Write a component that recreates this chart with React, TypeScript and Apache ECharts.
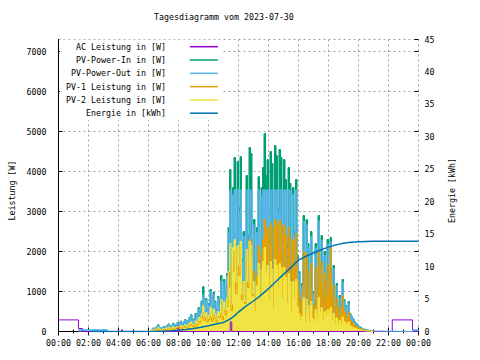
import React, { useEffect, useRef } from "react";
import * as echarts from "echarts";

const chartTitle = "Tagesdiagramm vom 2023-07-30";
const seriesNames = [
  "AC Leistung in [W]",
  "PV-Power-In in [W]",
  "PV-Power-Out in [W]",
  "PV-1 Leistung in [W]",
  "PV-2 Leistung in [W]",
  "Energie in [kWh]",
];
const seriesColors = ["#9400d3", "#009e73", "#56b4e9", "#e69f00", "#f0e442", "#0072b2"];
const xTickLabels = ["00:00", "02:00", "04:00", "06:00", "08:00", "10:00", "12:00", "14:00", "16:00", "18:00", "20:00", "22:00", "00:00"];
const leftAxisName = "Leistung [W]";
const rightAxisName = "Energie [kWh]";

// daytime samples: every 6 minutes from 06:00 to 21:00
const DAY_START_H = 6;
const DAY_STEP_H = 0.1;

const pvInDay = [
  0, 10, 40, 90, 60, 120, 170, 100, 70, 110,
  130, 100, 150, 190, 120, 160, 210, 140, 180, 230,
  200, 260, 180, 240, 300, 220, 280, 360, 420, 300,
  320, 450, 380, 600, 520, 760, 1120, 640, 820, 560,
  700, 1050, 620, 980, 760, 540, 880, 790, 1400, 680,
  1300, 950, 1450, 2600, 4050, 1200, 3600, 4350, 2200, 4250,
  3100, 4370, 1800, 2500, 1500, 3900, 2400, 4600, 4450, 1900,
  2800, 1200, 2600, 3870, 1800, 3600, 4100, 4950, 3900, 4300,
  2300, 4500, 4200, 1700, 4650, 4400, 3100, 4550, 4350, 2600,
  4300, 3800, 2200, 4100, 3700, 1600, 3600, 2500, 3800, 1900,
  1500, 800, 1200, 2900, 600, 2800, 2200, 700, 2500, 1000,
  700, 2200, 1100, 2900, 1700, 2400, 800, 2000, 1300, 2300,
  1500, 2350, 900, 1650, 600, 1200, 500, 900, 650, 1300,
  800, 650, 500, 750, 450, 380, 320, 250, 210, 160,
  130, 110, 80, 60, 45, 35, 30, 25, 20, 15,
  0,
];

const pvOutDay = [
  0, 8, 35, 85, 55, 110, 160, 95, 65, 100,
  120, 95, 140, 180, 115, 150, 200, 130, 170, 215,
  190, 245, 170, 225, 285, 210, 265, 340, 400, 285,
  305, 430, 360, 570, 495, 720, 910, 610, 780, 530,
  665, 1000, 590, 930, 720, 515, 835, 640, 1250, 645,
  1240, 900, 1380, 2470, 3540, 1140, 3420, 3540, 2090, 3540,
  2950, 3540, 1710, 2380, 1430, 3540, 2280, 3540, 3540, 1800,
  2660, 1140, 2470, 3540, 1710, 3420, 3540, 3540, 3540, 3540,
  2190, 3540, 3540, 1620, 3540, 3540, 2950, 3540, 3540, 2470,
  3540, 3540, 2090, 3540, 3520, 1520, 3420, 2380, 3540, 1800,
  1430, 760, 1140, 2760, 570, 2660, 2090, 665, 2380, 950,
  665, 2090, 1045, 2760, 1615, 2280, 760, 1900, 1235, 2185,
  1430, 2230, 855, 1570, 570, 1140, 475, 855, 620, 1235,
  760, 620, 475, 710, 430, 360, 305, 240, 200, 150,
  125, 105, 75, 57, 43, 33, 28, 24, 19, 14,
  0,
];

const pv1Day = [
  0, 4, 15, 40, 25, 50, 70, 40, 30, 45,
  55, 40, 60, 80, 50, 65, 90, 55, 75, 100,
  85, 110, 75, 100, 130, 90, 120, 150, 180, 125,
  130, 190, 160, 250, 220, 330, 480, 270, 350, 240,
  300, 450, 260, 420, 320, 230, 380, 340, 600, 290,
  560, 410, 620, 1100, 1650, 520, 1500, 2000, 950, 2050,
  1400, 2100, 800, 1200, 700, 1800, 1100, 2300, 2250, 900,
  1500, 650, 1400, 2150, 1000, 2000, 2300, 2800, 2400, 2600,
  1450, 2700, 2600, 1100, 2800, 2700, 1950, 2780, 2700, 1650,
  2650, 2400, 1450, 2600, 2350, 1050, 2300, 1600, 2450, 1250,
  1000, 500, 800, 2000, 380, 1950, 1500, 450, 1700, 650,
  460, 1600, 750, 2000, 1200, 1750, 520, 1450, 900, 1650,
  1050, 2100, 620, 1150, 400, 820, 330, 600, 430, 900,
  520, 420, 320, 480, 290, 240, 200, 160, 130, 100,
  80, 70, 50, 35, 25, 20, 15, 12, 10, 8,
  0,
];

const pv2Day = [
  0, 5, 25, 50, 35, 70, 100, 60, 40, 65,
  75, 60, 90, 110, 70, 95, 120, 85, 105, 130,
  115, 150, 105, 140, 170, 130, 160, 210, 240, 175,
  190, 260, 220, 350, 300, 430, 640, 370, 470, 320,
  400, 600, 360, 560, 440, 310, 500, 450, 800, 390,
  740, 540, 830, 1500, 2200, 680, 2100, 2300, 1250, 2150,
  1650, 2250, 950, 1250, 750, 2050, 1250, 2250, 2150, 950,
  1250, 500, 1150, 1700, 750, 1550, 1750, 2100, 1450, 1650,
  800, 1750, 1550, 550, 1800, 1650, 1050, 1700, 1600, 850,
  1600, 1350, 700, 1450, 1250, 500, 1250, 800, 1300, 600,
  450, 270, 370, 850, 200, 800, 650, 230, 750, 320,
  230, 550, 330, 850, 460, 600, 260, 500, 380, 550,
  420, 600, 260, 450, 180, 340, 160, 280, 200, 360,
  250, 210, 160, 240, 140, 120, 100, 80, 70, 50,
  40, 35, 25, 20, 15, 12, 10, 8, 6, 5,
  0,
];

// irregular readings (hour of day, value)
const acTimes = [0, 1.33, 1.6, 4.2, 4.27, 7.95, 8.03, 11.45, 11.55, 20.6, 20.67, 22.25, 23.6, 24];
const acValues = [290, 75, 0, 40, 0, 150, 0, 240, 0, 30, 0, 290, 0, 0];

const outNightTimes = [1.33, 3.25];
const outNightValues = [45, 0];
const outLateTimes = [23.6, 24];
const outLateValues = [45, 45];

const energyTimes = [2.13, 6, 6.5, 7, 7.5, 8, 8.5, 9, 9.5, 10, 10.5, 11, 11.33, 11.67, 12, 12.5, 13, 13.5, 14, 14.5, 15, 15.5, 16, 16.5, 17, 17.5, 18, 18.5, 19, 19.5, 20, 20.5, 21, 21.5, 24];
const energyValues = [0, 0, 0.02, 0.06, 0.12, 0.2, 0.3, 0.45, 0.65, 0.9, 1.15, 1.4, 1.77, 2.3, 3.0, 3.9, 4.7, 5.6, 6.6, 7.7, 8.8, 9.9, 11.0, 11.6, 12.1, 12.6, 13.0, 13.35, 13.6, 13.75, 13.82, 13.86, 13.9, 13.9, 13.9];

const FONT = "DejaVu Sans Mono";
const FS = 8.3;

const pairs = (t: number[], v: number[]) => t.map((x, i) => [x, v[i]]);
const dayPoints = (vals: number[]) => vals.map((v, i) => [DAY_START_H + i * DAY_STEP_H, v]);

export default function App() {
  const ref = useRef<HTMLDivElement>(null);
  useEffect(() => {
    if (!ref.current) return;
    const chart = echarts.init(ref.current, undefined, { renderer: "svg" });
    const grid = { left: 58.5, right: 61.5, top: 39.5, bottom: 28.5 };
    const gridLine = { color: "#a0a0a0", width: 1, type: [2, 3] as any };
    const lineSeries = (idx: number, data: any[], area: boolean, yIdx = 0, step: any = "end", width = 1) => ({
      name: seriesNames[idx],
      type: "line",
      xAxisIndex: 0,
      yAxisIndex: yIdx,
      data,
      step,
      symbol: "none",
      showSymbol: false,
      color: seriesColors[idx],
      lineStyle: { width, color: seriesColors[idx] },
      areaStyle: area ? { color: seriesColors[idx], opacity: 1 } : undefined,
      emphasis: { disabled: true },
      animation: false,
    });
    chart.setOption({
      animation: false,
      backgroundColor: "#ffffff",
      textStyle: { fontFamily: FONT },
      title: {
        text: chartTitle,
        left: 154,
        top: 13,
        padding: 0,
        textStyle: { fontFamily: FONT, fontSize: FS, fontWeight: "normal", color: "#000" },
      },
      legend: {
        orient: "vertical",
        align: "right",
        left: 60,
        top: 39.7,
        padding: [2, 4, 2, 6],
        backgroundColor: "#ffffff",
        icon: "rect",
        itemWidth: 28,
        itemHeight: 1.5,
        itemGap: 3.3,
        data: seriesNames,
        selectedMode: false,
        textStyle: { fontFamily: FONT, fontSize: FS, color: "#000", lineHeight: 10, padding: [0, 19, 0, 0] },
      },
      grid: { ...grid, outerBoundsMode: "none" },
      xAxis: [
        {
          type: "value",
          position: "bottom",
          min: 0,
          max: 24,
          interval: 2,
          axisLine: { show: true, lineStyle: { color: "#000", width: 1 } },
          axisTick: { show: true, inside: true, length: 4, lineStyle: { color: "#000" } },
          minorTick: { show: true, splitNumber: 2, length: 2, lineStyle: { color: "#000" } },
          splitLine: { show: true, lineStyle: gridLine },
          axisLabel: {
            show: true,
            margin: 7,
            showMinLabel: true,
            showMaxLabel: true,
            fontFamily: FONT,
            fontSize: FS,
            color: "#000",
            formatter: (v: number) => xTickLabels[Math.round(v / 2)] ?? "",
          },
        },
        {
          type: "value",
          position: "top",
          min: 0,
          max: 24,
          interval: 2,
          axisLine: { show: true, lineStyle: { color: "#000", width: 1 } },
          axisTick: { show: true, inside: true, length: 4, lineStyle: { color: "#000" } },
          minorTick: { show: true, splitNumber: 2, length: 2, lineStyle: { color: "#000" } },
          splitLine: { show: false },
          axisLabel: { show: false },
        },
      ],
      yAxis: [
        {
          type: "value",
          position: "left",
          min: 0,
          max: 7300,
          interval: 1000,
          name: leftAxisName,
          nameLocation: "middle",
          nameGap: 43,
          nameRotate: 90,
          nameTextStyle: { fontFamily: FONT, fontSize: FS, color: "#000", padding: [0, 10, 0, 0] },
          axisLine: { show: true, lineStyle: { color: "#000", width: 1 } },
          axisTick: { show: true, inside: true, length: 4, lineStyle: { color: "#000" } },
          splitLine: { show: true, lineStyle: gridLine },
          axisLabel: {
            margin: 12,
            showMaxLabel: false,
            fontFamily: FONT,
            fontSize: FS,
            color: "#000",
            formatter: (v: number) => (v % 1000 === 0 ? String(v) : ""),
          },
        },
        {
          type: "value",
          position: "right",
          offset: 0,
          min: 0,
          max: 45,
          interval: 5,
          name: rightAxisName,
          nameLocation: "middle",
          nameGap: 29,
          nameRotate: 90,
          nameTextStyle: { fontFamily: FONT, fontSize: FS, color: "#000", padding: [0, 10, 0, 0] },
          axisLine: { show: true, lineStyle: { color: "#000", width: 1 } },
          axisTick: { show: false },
          splitLine: { show: false },
          axisLabel: {
            margin: 6,
            fontFamily: FONT,
            fontSize: FS,
            color: "#000",
            formatter: (v: number) => String(v),
          },
        },
        {
          type: "value",
          position: "right",
          offset: 0,
          min: 0,
          max: 7300,
          interval: 1000,
          axisLine: { show: false },
          axisTick: { show: true, inside: true, length: 4, lineStyle: { color: "#000" } },
          splitLine: { show: false },
          axisLabel: { show: false },
        },
      ],
      series: [
        lineSeries(0, pairs(acTimes, acValues), false),
        lineSeries(1, dayPoints(pvInDay), true),
        lineSeries(2, [...pairs(outNightTimes, outNightValues), ...dayPoints(pvOutDay), ...pairs(outLateTimes, outLateValues)], true),
        lineSeries(3, dayPoints(pv1Day), true),
        lineSeries(4, dayPoints(pv2Day), true),
        lineSeries(5, pairs(energyTimes, energyValues), false, 1, false, 1.5),
      ],
    });
    return () => chart.dispose();
  }, []);
  return (
    <div
      ref={ref}
      style={{ position: "absolute", left: 0, top: 0, width: 480, height: 360, background: "#fff" }}
    />
  );
}
